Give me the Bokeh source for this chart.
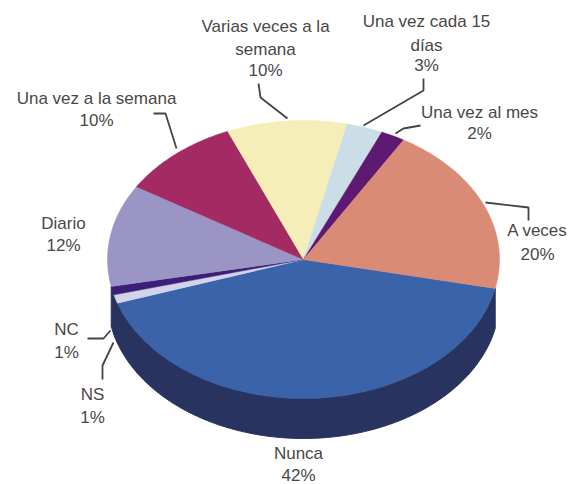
import math
from bokeh.core.properties import value
from bokeh.embed import file_html
from bokeh.models import Range1d
from bokeh.plotting import figure
from bokeh.resources import INLINE

# Survey answers, in drawing order (clockwise from the right-hand rim)
categories = ["Nunca", "NS", "NC", "Diario", "Una vez a la semana",
              "Varias veces a la semana", "Una vez cada 15 días",
              "Una vez al mes", "A veces"]
shares = [42, 1, 1, 12, 10, 10, 3, 2, 20]
colors = ["#3A63A9", "#D3D3EA", "#3B1E78", "#9A95C5", "#A32A62",
          "#F6EEB8", "#CBDEE8", "#5E1A72", "#DA8B75"]

# Only the slices along the front of the pie show their side wall
side_color = "#28345F"
side_slices = ["Nunca", "NS", "NC"]

# Pie geometry in page pixels
CX, CY, RX, RY = 303, 259, 196, 139
DEPTH = 40
START_DEG = 12

# Label text, centre position and line offsets
label_blocks = [
    (["Nunca", "42%"], 298, [453, 475]),
    (["NS", "1%"], 92, [394, 417]),
    (["NC", "1%"], 66, [329, 352]),
    (["Diario", "12%"], 63, [223, 245]),
    (["Una vez a la semana", "10%"], 96, [98, 120]),
    (["Varias veces a la", "semana", "10%"], 265, [26, 49, 70]),
    (["Una vez cada 15", "días", "3%"], 426, [21, 45, 65]),
    (["Una vez al mes", "2%"], 479, [112, 133]),
    (["A veces", "20%"], 537, [230, 254]),
]

# Leader lines from label to rim
leaders = [
    ([102, 102, 113], [379, 365, 342]),
    ([87, 103, 110], [338, 338, 330]),
    ([153, 165, 176], [113, 113, 148]),
    ([258, 260, 287], [83, 97, 118]),
    ([423, 423, 363], [78, 90, 125]),
    ([420, 403, 395], [125, 128, 133]),
    ([528, 528, 485], [220, 207, 202]),
]


def rim(deg0, deg1, dy=0):
    n = max(2, int(abs(deg1 - deg0)) + 2)
    angles = [math.radians(deg0 + (deg1 - deg0) * i / (n - 1)) for i in range(n)]
    return ([CX + RX * math.cos(a) for a in angles],
            [CY + dy + RY * math.sin(a) for a in angles])


p = figure(width=576, height=484, output_backend="svg", toolbar_location=None,
           x_range=Range1d(0, 576), y_range=Range1d(484, 0),
           min_border=0, background_fill_color="white",
           border_fill_color="white", outline_line_color=None)
p.axis.visible = False
p.grid.visible = False

total = sum(shares)
bounds = [START_DEG]
for s in shares:
    bounds.append(bounds[-1] + s / total * 360)

# Side wall first, so the top face sits above it
for name, a0, a1 in zip(categories, bounds[:-1], bounds[1:]):
    if name in side_slices:
        xs_top, ys_top = rim(a0, a1)
        xs_low, ys_low = rim(a1, a0, DEPTH)
        p.patch(xs_top + xs_low, ys_top + ys_low, fill_color=side_color,
                line_color=side_color, line_width=1)

# Top face
for color, a0, a1 in zip(colors, bounds[:-1], bounds[1:]):
    xs, ys = rim(a0, a1)
    p.patch([CX] + xs, [CY] + ys, fill_color=color, line_color=color, line_width=0.5)

for xs, ys in leaders:
    p.line(xs, ys, line_color="#444444", line_width=1.8)

for lines, x, ys in label_blocks:
    p.text([x] * len(lines), ys, text=lines, text_font=value("Liberation Sans"),
           text_font_size="17px", text_color="#484848",
           text_align="center", text_baseline="middle")

open("out.html", "w").write(file_html(p, INLINE))
